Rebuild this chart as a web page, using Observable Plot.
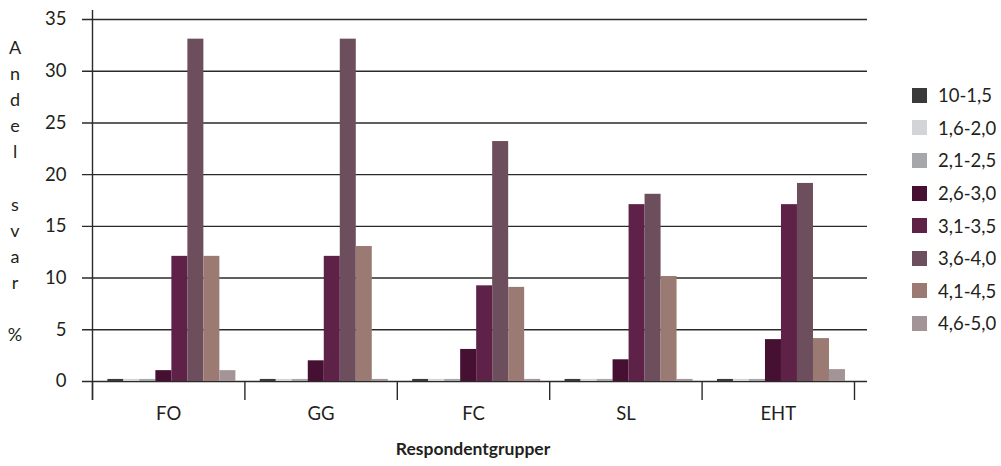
<!DOCTYPE html>
<html>
<head>
<meta charset="utf-8">
<script src="https://cdn.jsdelivr.net/npm/d3@7"></script>
<script src="https://cdn.jsdelivr.net/npm/@observablehq/plot@0.6"></script>
<style>
  body { margin: 0; background: #fff; font-family: Lato, sans-serif; color: #231f20; }
  #wrap { position: relative; width: 1001px; height: 466px; overflow: hidden; }
  #chart svg { font-family: Lato, sans-serif; }
  #ylab { position: absolute; left: 0; top: 34px; width: 30px; text-align: center; font-size: 18px; line-height: 26.1px; white-space: pre; }
  #xlab { position: absolute; left: 273px; width: 400px; top: 438px; text-align: center; font-size: 17.5px; font-weight: bold; }
  #legend { position: absolute; left: 912px; top: 79px; }
  #legend .lg-swatch { height: 32.6px; padding: 0 !important; margin: 0 !important; display: flex; align-items: center; font-size: 18.5px; font-family: Lato, sans-serif; color: #231f20; }
  #legend .lg-swatch svg { margin-right: 11px !important; }
</style>
</head>
<body>
<div id="wrap">
  <div id="chart"></div>
  <div id="ylab"></div>
  <div id="xlab"></div>
  <div id="legend"></div>
</div>
<script>
const groups = ["FO", "GG", "FC", "SL", "EHT"];
const series = ["10-1,5", "1,6-2,0", "2,1-2,5", "2,6-3,0", "3,1-3,5", "3,6-4,0", "4,1-4,5", "4,6-5,0"];
const valuesFO  = [0.2, 0.2, 0.2, 1.05, 12.1, 33.1, 12.1, 1.05];
const valuesGG  = [0.2, 0.2, 0.2, 2.0, 12.1, 33.1, 13.05, 0.2];
const valuesFC  = [0.2, 0.2, 0.2, 3.1, 9.25, 23.2, 9.1, 0.2];
const valuesSL  = [0.2, 0.2, 0.2, 2.1, 17.1, 18.1, 10.15, 0.2];
const valuesEHT = [0.2, 0.2, 0.2, 4.05, 17.1, 19.15, 4.15, 1.15];
const colors = ["#3a3a3a", "#d3d4d6", "#a6a7aa", "#461033", "#5e2249", "#6d4e5c", "#9a7a73", "#a39597"];
const yTicks = [0, 5, 10, 15, 20, 25, 30, 35];
const yTitle = "Andel svar %";
const xTitle = "Respondentgrupper";

const byGroup = {FO: valuesFO, GG: valuesGG, FC: valuesFC, SL: valuesSL, EHT: valuesEHT};
const rows = groups.flatMap(g => series.map((s, i) => ({group: g, series: s, value: byGroup[g][i]})));
const gridRows = yTicks.map(t => ({group: groups[0], tick: t}));

// layout constants
const W = 1001, H = 466, mL = 92, mR = 147, mT = 19, mB = 85;
const facetW = (W - mL - mR) / groups.length;
const step = 16;
const outer = (facetW / step - series.length) / 2;
const align = 0.63;
const firstStart = (facetW - series.length * step) * align;
const dxLeft = -(firstStart + step / 2);
const dxRight = facetW - (firstStart + (series.length - 1) * step + step / 2);
const lineColor = "#2a2a2a";

const plot = Plot.plot({
  width: W,
  height: H,
  marginLeft: mL,
  marginRight: mR,
  marginTop: mT,
  marginBottom: mB,
  style: {fontSize: "18.5px", color: "#231f20", background: "transparent"},
  fx: {domain: groups, padding: 0, round: false, axis: "bottom", label: null, tickSize: 0, tickPadding: 25.5},
  x: {domain: series, axis: null, round: false, paddingInner: 0, paddingOuter: outer, align: align},
  y: {domain: [0, 35], ticks: yTicks, tickSize: 0, tickPadding: 26, label: null, tickFormat: d => String(d)},
  color: {domain: series, range: colors, type: "ordinal"},
  marks: [
    // gridlines, drawn once from the first facet across the whole frame
    Plot.ruleY(gridRows, {fx: "group", y: "tick", stroke: lineColor, strokeWidth: 1.4, insetLeft: -10, insetRight: -(W - mL - mR - facetW) - 13}),
    Plot.barY(rows, {fx: "group", x: "series", y: "value", fill: "series", inset: 0}),
    // category separator ticks
    Plot.ruleX(rows.filter(d => d.series === series[0]), {fx: "group", x: "series", dx: dxLeft, y1: 0, y2: 0, insetBottom: -19, stroke: lineColor, strokeWidth: 1.4}),
    Plot.ruleX(rows.filter(d => d.series === series[series.length - 1] && d.group === groups[groups.length - 1]), {fx: "group", x: "series", dx: dxRight, y1: 0, y2: 0, insetBottom: -19, stroke: lineColor, strokeWidth: 1.4}),
    // y axis line
    Plot.ruleX(rows.filter(d => d.series === series[0] && d.group === groups[0]), {fx: "group", x: "series", dx: dxLeft, y1: 35, y2: 0, insetTop: -9, insetBottom: -19, stroke: lineColor, strokeWidth: 1.4})
  ]
});
document.getElementById("chart").appendChild(plot);

document.getElementById("ylab").textContent = yTitle.split("").join("\n");
document.getElementById("xlab").textContent = xTitle;

const leg = Plot.legend({color: {domain: series, range: colors, type: "ordinal"}, legend: "swatches", columns: 1, swatchSize: 15, className: "lg"});
document.getElementById("legend").appendChild(leg);
</script>
</body>
</html>
